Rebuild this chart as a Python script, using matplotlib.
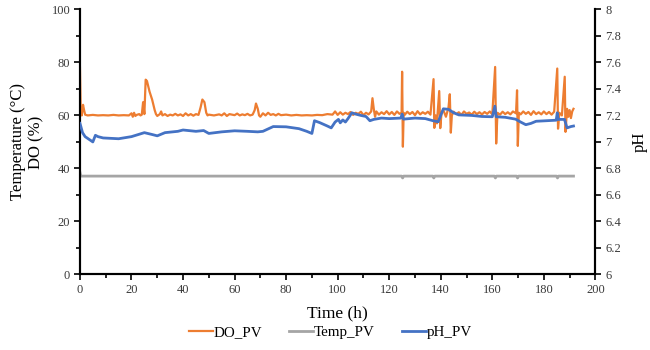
import matplotlib
matplotlib.use("Agg")
import matplotlib.pyplot as plt
from matplotlib.ticker import MultipleLocator, FuncFormatter

plt.rcParams['font.family'] = ['Liberation Serif', 'DejaVu Serif']

# ---- data ----
do_t = [0, 0.3, 0.7, 1.2, 1.6, 2.0, 3, 5, 7, 9, 11, 13, 15, 17, 19, 20, 20.5, 21, 21.5, 22, 23, 23.5, 24,
        24.5, 25, 25.5, 26, 27, 28, 29, 29.5, 30, 31, 31.5, 32, 33, 34, 35, 36, 37, 38, 39, 40, 41, 42, 43,
        44, 45, 46, 46.8, 47.5, 48.3, 49, 49.5, 50, 52, 54, 55, 56, 57, 58, 60, 61, 62, 63, 64, 65, 66, 67,
        67.8, 68.3, 69, 69.5, 70, 71, 72, 73, 74, 75, 76, 77, 78, 80, 82, 84, 86, 88, 90, 92, 94, 96, 98, 99,
        100, 101, 102, 103, 104, 105, 106, 107, 108, 109, 110, 111, 112, 113, 113.5, 114, 114.5, 115, 116,
        117, 118, 119, 120, 121, 122, 123, 124, 124.8, 125, 125.3, 125.6, 126, 127, 128, 129, 130, 131, 132,
        133, 134, 135, 136, 137.2, 137.5, 138, 138.5, 139.4, 139.8, 140.3, 141, 142, 143, 143.5, 143.9, 144.3,
        145, 146, 147, 148, 149, 150, 151, 152, 153, 154, 155, 156, 157, 158, 159, 160, 161.1, 161.5, 162,
        163, 164, 165, 166, 167, 168, 169.2, 169.6, 169.9, 170.3, 171, 172, 173, 174, 175, 176, 177, 178,
        179, 180, 181, 182, 183, 184, 185.2, 185.5, 186, 187, 188.1, 188.4, 189, 189.5, 190, 190.5, 191, 191.5]
do_v = [78, 62, 60, 64, 62, 60.3, 60, 60.2, 60, 60.1, 60, 60.2, 60, 60.1, 60, 60.8, 59.5, 61, 59.8, 60.2, 60.5, 60, 60.3,
        65, 60.5, 73.5, 73, 69, 66, 62, 60.5, 59.8, 60.5, 61.5, 60, 60.5, 59.8, 60.3, 60, 60.6, 60, 60.4, 59.8, 60.8, 60, 60.5,
        59.9, 60.5, 60.2, 63, 66, 65, 61, 60, 60.3, 60, 60.4, 60, 60.8, 59.8, 60.5, 60.1, 60.7, 60, 60.4, 60.1, 60.6, 60, 60.3,
        62, 64.5, 62.5, 60, 59.5, 60.8, 60, 61, 60.2, 60.5, 60, 60.6, 60.1, 60.3, 60, 60.2, 60, 60.1, 60, 60.2, 60.1, 60.5, 60.3, 61.5,
        60.2, 61.2, 60.3, 61, 60.5, 61.3, 60.2, 61, 60.6, 61.4, 60.1, 61, 60.4, 61.5, 66.5, 62.5, 59.5, 61.5, 60.3,
        61.2, 60.5, 61.6, 60.4, 61.3, 60.2, 61.5, 60.6, 61, 76.5, 48.2, 61, 60.2, 61.4, 60.5, 61.3, 60.1, 61.6, 60.4,
        61.2, 60.6, 61.4, 60.3, 73.7, 55.3, 60, 57, 69.2, 55.2, 61, 62, 59.5, 63, 68, 53.5, 60,
        61.4, 60.5, 61.2, 60.2, 61.5, 60.6, 61.1, 60.3, 61.4, 60.5, 61.2, 60.4, 61.3, 60.6, 61.5, 60.4, 78.3, 49.4, 61,
        60.3, 61.4, 60.5, 61.2, 60.4, 61.5, 60.8, 69.5, 48.5, 61, 60.4, 61.5, 60.6, 61.3, 60.2, 61.6, 60.5, 61.2,
        60.4, 61.5, 60.5, 61.3, 60.3, 61.4, 77.7, 55, 61, 60, 74.6, 53.8, 62.5, 59.5, 62, 59, 61.5, 62.5]

temp_t = [0, 0.3, 124.8, 125.2, 125.6, 136.9, 137.3, 137.7, 160.8, 161.2, 161.6, 169.4, 169.8, 170.2,
          184.9, 185.3, 185.7, 191.5]
temp_v = [38.5, 37.1, 37.1, 36.4, 37.1, 37.1, 36.4, 37.1, 37.1, 36.4, 37.1, 37.1, 36.4, 37.1,
          37.1, 36.4, 37.1, 37.1]

ph_t = [0, 0.3, 1, 2, 3.5, 5, 6, 7, 9, 15, 20, 25, 28, 30, 33, 38, 40, 45, 48, 50, 55, 60, 65, 69, 71, 75,
        80, 85, 88, 90, 91, 93, 96, 97.5, 99, 100.3, 101, 102, 103, 104, 105.5, 107, 109, 111, 112.5, 114,
        117, 120, 124.5, 125, 125.5, 130, 134, 137, 139, 141, 143, 145, 147, 152, 156, 160, 161, 161.5, 165,
        169, 171, 173, 175, 177, 181, 184.8, 185.2, 185.6, 188, 189, 190.5, 191.5]
ph_v = [7.14, 7.12, 7.07, 7.04, 7.02, 7.0, 7.05, 7.04, 7.03, 7.024, 7.04, 7.07, 7.056, 7.046, 7.07, 7.08, 7.09,
        7.08, 7.086, 7.064, 7.076, 7.084, 7.08, 7.076, 7.08, 7.116, 7.114, 7.10, 7.08, 7.064, 7.16, 7.146, 7.12,
        7.106, 7.15, 7.17, 7.144, 7.166, 7.15, 7.176, 7.22, 7.21, 7.20, 7.192, 7.16, 7.17, 7.18, 7.176, 7.18,
        7.21, 7.172, 7.18, 7.176, 7.16, 7.152, 7.25, 7.246, 7.22, 7.204, 7.20, 7.192, 7.19, 7.27, 7.19, 7.186,
        7.172, 7.15, 7.13, 7.14, 7.156, 7.16, 7.164, 7.22, 7.17, 7.17, 7.106, 7.116, 7.12]

series_names = ["DO_PV", "Temp_PV", "pH_PV"]
colors = ["#ED7D31", "#A5A5A5", "#4472C4"]

# ---- figure ----
fig = plt.figure(figsize=(6.5, 3.5), dpi=100)
ax = fig.add_axes([0.123, 0.216, 0.793, 0.757])
ax2 = ax.twinx()

l1, = ax.plot(do_t, do_v, color=colors[0], lw=1.6, label=series_names[0], zorder=3)
l2, = ax.plot(temp_t, temp_v, color=colors[1], lw=2.0, label=series_names[1], zorder=2)
l3, = ax2.plot(ph_t, ph_v, color=colors[2], lw=2.0, label=series_names[2], zorder=3)

ax.set_xlim(0, 200)
ax.set_ylim(0, 100)
ax2.set_ylim(6, 8)

ax.xaxis.set_major_locator(MultipleLocator(20))
ax.xaxis.set_minor_locator(MultipleLocator(10))
ax.yaxis.set_major_locator(MultipleLocator(20))
ax.yaxis.set_minor_locator(MultipleLocator(10))
ax2.yaxis.set_major_locator(MultipleLocator(0.2))
ax2.yaxis.set_major_formatter(FuncFormatter(lambda v, p: f"{v:g}"))

tick_col = "#3a3a3a"
ax.tick_params(axis='both', which='major', labelsize=9, colors='black', labelcolor=tick_col,
               length=4, width=1.2, direction='out', pad=3)
ax.tick_params(axis='both', which='minor', length=3, width=1.2, direction='out')
ax2.tick_params(axis='y', which='major', labelsize=9, colors='black', labelcolor=tick_col,
                length=4, width=1.2, direction='out', pad=3)

for a in (ax, ax2):
    a.spines['top'].set_visible(False)
    for s in ('left', 'right', 'bottom'):
        a.spines[s].set_linewidth(1.5)
        a.spines[s].set_color('black')

ax.set_xlabel("Time (h)", fontsize=12.5, labelpad=7)
ax.set_ylabel("Temperature (°C)\nDO (%)", fontsize=12, labelpad=5, linespacing=1.2)
ax2.set_ylabel("pH", fontsize=12, labelpad=8)

fig.legend(handles=[l1, l2, l3], loc='center', bbox_to_anchor=(0.508, 0.05), ncol=3, frameon=False,
           fontsize=10.8, handlelength=1.6, handletextpad=0.05, columnspacing=1.8)

fig.savefig("out.png", dpi=100)
